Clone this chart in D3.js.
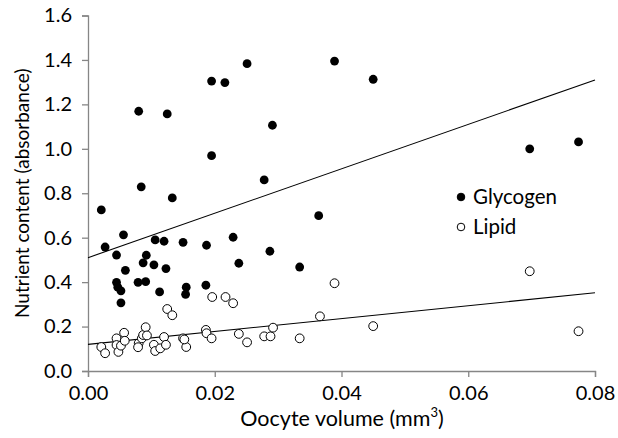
<!DOCTYPE html>
<html>
<head>
<meta charset="utf-8">
<script src="https://cdn.jsdelivr.net/npm/d3@7"></script>
<style>
  html, body { margin: 0; padding: 0; background: #fff; }
  svg { display: block; }
  text { font-family: Lato, "Open Sans", sans-serif; fill: #000; }
</style>
</head>
<body>
<div id="chart"></div>
<script>
// ---- data ----
const glycogenX = [0.0021, 0.0080, 0.0084, 0.0125, 0.0133, 0.0195, 0.0195, 0.0216, 0.0251, 0.0291,
  0.0278, 0.0364, 0.0389, 0.0450, 0.0697, 0.0774, 0.0027, 0.0045, 0.0056, 0.0045,
  0.0047, 0.0052, 0.0052, 0.0059, 0.0079, 0.0091, 0.0087, 0.0092, 0.0106, 0.0104,
  0.0120, 0.0123, 0.0113, 0.0150, 0.0155, 0.0154, 0.0187, 0.0186, 0.0229, 0.0238,
  0.0287, 0.0334];
const glycogenY = [0.725, 1.169, 0.829, 1.157, 0.779, 1.305, 0.969, 1.298, 1.383, 1.106,
  0.860, 0.699, 1.395, 1.313, 1.000, 1.031, 0.558, 0.522, 0.613, 0.399,
  0.377, 0.361, 0.307, 0.453, 0.399, 0.402, 0.487, 0.521, 0.590, 0.478,
  0.584, 0.461, 0.356, 0.579, 0.377, 0.345, 0.566, 0.386, 0.602, 0.485,
  0.539, 0.468];

const lipidX = [0.0021, 0.0027, 0.0045, 0.0045, 0.0048, 0.0052, 0.0057, 0.0058, 0.0080, 0.0079,
  0.0085, 0.0087, 0.0091, 0.0093, 0.0104, 0.0106, 0.0114, 0.0120, 0.0123, 0.0125,
  0.0133, 0.0150, 0.0155, 0.0152, 0.0186, 0.0187, 0.0196, 0.0195, 0.0217, 0.0229,
  0.0238, 0.0251, 0.0278, 0.0288, 0.0292, 0.0334, 0.0366, 0.0389, 0.0450, 0.0697,
  0.0774];
const lipidY = [0.108, 0.080, 0.147, 0.117, 0.086, 0.114, 0.172, 0.136, 0.125, 0.107,
  0.147, 0.162, 0.197, 0.160, 0.118, 0.090, 0.102, 0.153, 0.118, 0.279,
  0.251, 0.147, 0.108, 0.142, 0.185, 0.170, 0.333, 0.147, 0.333, 0.305,
  0.167, 0.129, 0.156, 0.156, 0.195, 0.147, 0.246, 0.395, 0.202, 0.449,
  0.179];

// linear trend lines, endpoints at x = 0 and x = 0.08
const trendX = [0, 0.08];
const glycogenTrend = [0.51, 1.31];
const lipidTrend = [0.12, 0.352];

const xTicks = [0, 0.02, 0.04, 0.06, 0.08];
const yTicks = [0, 0.2, 0.4, 0.6, 0.8, 1.0, 1.2, 1.4, 1.6];

// ---- layout ----
const W = 618, H = 438;
const margin = { left: 88, right: 23, top: 15.5, bottom: 67 };
const AXIS = '#868686';

const svg = d3.select('#chart').append('svg').attr('width', W).attr('height', H);

const x = d3.scaleLinear().domain([0, 0.08]).range([margin.left, W - margin.right]);
const y = d3.scaleLinear().domain([0, 1.6]).range([H - margin.bottom, margin.top]);

// axes
const xAxis = svg.append('g').attr('transform', `translate(0,${y(0)})`)
  .call(d3.axisBottom(x).tickValues(xTicks).tickFormat(d3.format('.2f')).tickSizeOuter(0).tickSize(6).tickPadding(9));
const yAxis = svg.append('g').attr('transform', `translate(${x(0)},0)`)
  .call(d3.axisLeft(y).tickValues(yTicks).tickFormat(d3.format('.1f')).tickSizeOuter(0).tickSize(6).tickPadding(10));
[xAxis, yAxis].forEach((g) => {
  g.select('.domain').attr('stroke', AXIS).attr('stroke-width', 1.3);
  g.selectAll('.tick line').attr('stroke', AXIS).attr('stroke-width', 1.3);
  g.selectAll('.tick text').attr('font-size', 20).attr('fill', '#000')
    .style('font-family', 'Lato, "Open Sans", sans-serif');
});

// trend lines
const line = d3.line().x((d) => x(d[0])).y((d) => y(d[1]));
[glycogenTrend, lipidTrend].forEach((t) => {
  svg.append('path')
    .datum(trendX.map((v, i) => [v, t[i]]))
    .attr('d', line).attr('fill', 'none').attr('stroke', '#000').attr('stroke-width', 1.1);
});

// points
const R = 4.4;
svg.append('g').selectAll('circle').data(d3.zip(lipidX, lipidY)).join('circle')
  .attr('cx', (d) => x(d[0])).attr('cy', (d) => y(d[1])).attr('r', R)
  .attr('fill', '#fff').attr('stroke', '#000').attr('stroke-width', 1);
svg.append('g').selectAll('circle').data(d3.zip(glycogenX, glycogenY)).join('circle')
  .attr('cx', (d) => x(d[0])).attr('cy', (d) => y(d[1])).attr('r', R)
  .attr('fill', '#000');

// legend
const legend = svg.append('g').attr('transform', 'translate(461,197)');
const items = [{ name: 'Glycogen', fill: '#000' }, { name: 'Lipid', fill: '#fff' }];
const li = legend.selectAll('g').data(items).join('g').attr('transform', (d, i) => `translate(0,${i * 30})`);
li.append('circle').attr('r', 3.8).attr('fill', (d) => d.fill).attr('stroke', '#000').attr('stroke-width', 1);
li.append('text').attr('x', 12).attr('dy', '0.35em').attr('font-size', 20.5).text((d) => d.name);

// axis titles
const xt = svg.append('text').attr('x', 342).attr('y', 426)
  .attr('text-anchor', 'middle').attr('font-size', 21.5);
xt.append('tspan').text('Oocyte volume (mm');
xt.append('tspan').attr('dy', -9).attr('font-size', 13).text('3');
xt.append('tspan').attr('dy', 9).text(')');

svg.append('text')
  .attr('transform', `translate(29,${(y(0) + y(1.6)) / 2}) rotate(-90)`)
  .attr('text-anchor', 'middle').attr('font-size', 19)
  .text('Nutrient content (absorbance)');
</script>
</body>
</html>
